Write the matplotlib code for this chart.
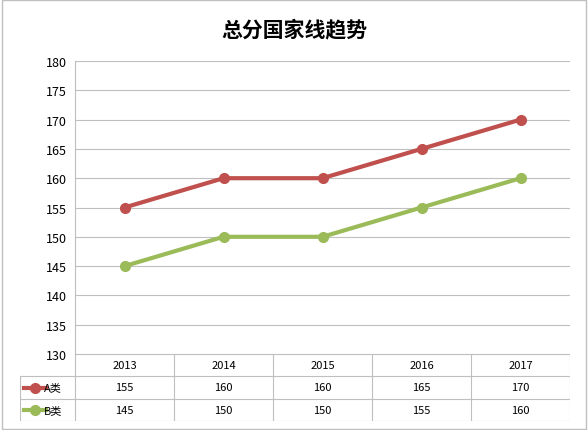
import matplotlib
matplotlib.use("Agg")
import matplotlib.pyplot as plt
from matplotlib.lines import Line2D
from matplotlib.patches import Rectangle

plt.rcParams['font.family'] = ['Noto Sans CJK SC', 'DejaVu Sans']

years = ['2013', '2014', '2015', '2016', '2017']
series_names = ['A类', 'B类']
a_vals = [155, 160, 160, 165, 170]
b_vals = [145, 150, 150, 155, 160]
colors = ['#C0504D', '#9BBB59']
yticks = list(range(130, 181, 5))

fig = plt.figure(figsize=(5.88, 4.31), dpi=100)
fig.patches.append(Rectangle((0.003, 0.003), 0.994, 0.994, transform=fig.transFigure,
                             fill=False, edgecolor='#BFBFBF', lw=1))
fig.text(0.5, 0.93, '总分国家线趋势', ha='center', va='center', fontsize=15, fontweight='bold')

ax = fig.add_axes([75/588, 76/431, 495/588, 293/431])
x = list(range(len(years)))
for vals, c in zip([a_vals, b_vals], colors):
    ax.plot(x, vals, color=c, lw=3, marker='o', ms=7, zorder=3)
ax.set_xlim(-0.5, 4.5)
ax.set_ylim(130, 180)
ax.set_yticks(yticks)
ax.tick_params(axis='y', labelsize=9, length=0, pad=6)
ax.set_xticks([])
ax.yaxis.grid(True, color='#BFBFBF', lw=0.8)
for s in ['top', 'right', 'bottom']:
    ax.spines[s].set_visible(False)
ax.spines['left'].set_color('#BFBFBF')

left_ext = 55/99
tax = fig.add_axes([20/588, 9/431, 550/588, 67/431])
tax.set_xlim(-0.5 - left_ext, 4.5)
tax.set_ylim(3, 0)
tax.axis('off')
lc = '#BFBFBF'
tax.plot([-0.5, 4.5], [0, 0], color=lc, lw=0.8)
for yv in [1, 2, 3]:
    tax.plot([-0.5 - left_ext, 4.5], [yv, yv], color=lc, lw=0.8)
for xv in [i - 0.5 for i in range(6)]:
    tax.plot([xv, xv], [0, 3], color=lc, lw=0.8)
tax.plot([-0.5 - left_ext] * 2, [1, 3], color=lc, lw=0.8)
for i, yr in enumerate(years):
    tax.text(i, 0.5, yr, ha='center', va='center', fontsize=8)
for r, (name, vals, c) in enumerate(zip(series_names, [a_vals, b_vals], colors)):
    yv = 1.5 + r
    lx0 = -0.5 - left_ext + 0.04
    tax.add_line(Line2D([lx0, lx0 + 0.22], [yv, yv], color=c, lw=3))
    tax.plot([lx0 + 0.11], [yv], 'o', color=c, ms=7)
    tax.text(lx0 + 0.2, yv, name, ha='left', va='center', fontsize=8)
    for i, v in enumerate(vals):
        tax.text(i, yv, str(v), ha='center', va='center', fontsize=8)

fig.savefig('out.png', dpi=100)
